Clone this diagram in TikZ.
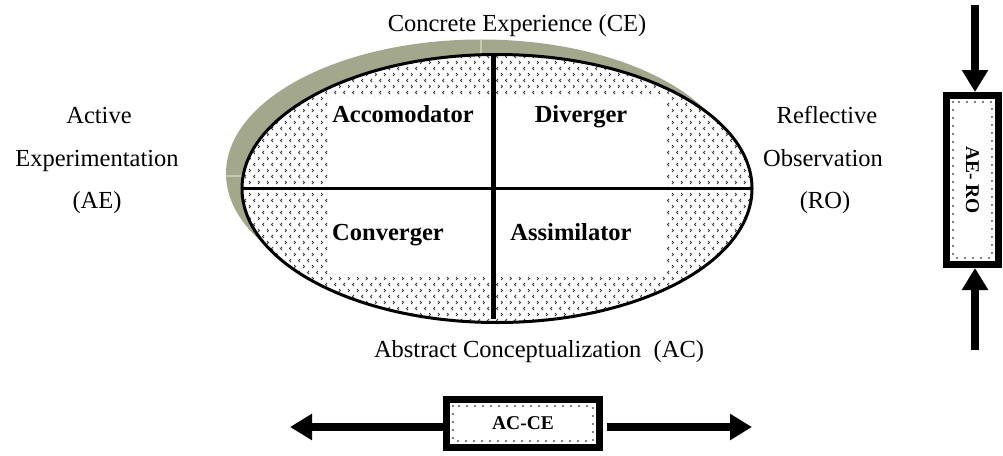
\documentclass[tikz,border=0pt]{standalone}
\usepackage{fontspec}
\setmainfont{Liberation Serif}
\usetikzlibrary{arrows.meta,patterns}
\pgfdeclarepatternformonly{chev}{\pgfqpoint{-1pt}{-1pt}}{\pgfqpoint{10pt}{13pt}}{\pgfqpoint{9pt}{12pt}}{%
  \pgfsetlinewidth{0.75pt}%
  \pgfpathmoveto{\pgfqpoint{3pt}{1pt}}\pgfpathlineto{\pgfqpoint{1.5pt}{2.5pt}}\pgfpathlineto{\pgfqpoint{3pt}{4pt}}%
  \pgfpathmoveto{\pgfqpoint{6pt}{7pt}}\pgfpathlineto{\pgfqpoint{7.5pt}{8.5pt}}\pgfpathlineto{\pgfqpoint{6pt}{10pt}}%
  \pgfusepath{stroke}}
\definecolor{shadowc}{RGB}{163,167,140}
\definecolor{shadowl}{RGB}{196,204,176}
\begin{document}
\begin{tikzpicture}[x=1pt,y=-1pt,
  plain/.style={font=\fontsize{24.5}{29}\selectfont, anchor=base, inner sep=0pt},
  quad/.style={font=\fontsize{24.5}{29}\selectfont\bfseries, anchor=base, inner sep=0pt},
  boxlbl/.style={font=\fontsize{19.5}{23}\selectfont\bfseries, inner sep=0pt},
  thickbox/.style={draw=black, line width=7pt, fill=white},
  dotline/.style={line width=1.8pt, line cap=round, dash pattern=on 0pt off 8pt},
  bigarrow/.style={line width=7.5pt, -{Triangle[length=22pt,width=25pt]}}
]
\useasboundingbox (0,0) rectangle (1003,455);
% shadow
\fill[shadowc] (481,173.5) ellipse [x radius=255, y radius=134];
\begin{scope}
  \clip (481,173.5) ellipse [x radius=255, y radius=134];
  \draw[shadowl, line width=1.5pt] (481,30) -- (481,330);
  \draw[shadowl, line width=1.5pt] (200,176) -- (780,176);
\end{scope}
% ellipse
\fill[white] (497,188.5) ellipse [x radius=255, y radius=134];
\fill[pattern=chev, pattern color=black!75] (497,188.5) ellipse [x radius=255, y radius=134];
\fill[white] (328,97) rectangle (666,274);
\draw[line width=3pt] (242,188.5) -- (752,188.5);
\draw[line width=5pt] (493.5,55) -- (493.5,319);
\draw[line width=3pt] (497,188.5) ellipse [x radius=255, y radius=134];
% quadrant labels
\node[quad] (acc) at (403,122) {Accomodator};
\node[quad] (div) at (581,122) {Diverger};
\node[quad] (con) at (388,240) {Converger};
\node[quad] (ass) at (571,240) {Assimilator};
% pole labels
\node[plain] (ce) at (517,31) {Concrete Experience (CE)};
\node[plain] (ac) at (539,357) {Abstract Conceptualization\ \ (AC)};
\node[plain] (ae1) at (99,123) {Active};
\node[plain] (ae2) at (97,166) {Experimentation};
\node[plain] (ae3) at (97,208) {(AE)};
\node[plain] (ro1) at (827,123) {Reflective};
\node[plain] (ro2) at (823,166) {Observation};
\node[plain] (ro3) at (825,208) {(RO)};
% right box
\draw[thickbox] (946.5,95.5) rectangle (998.5,264.5);
\draw[dotline] (953,102) rectangle (992,258);
\node[boxlbl, rotate=-90, fill=white, inner sep=3pt] (aero) at (972.5,180) {AE- RO};
\coordinate (aetop) at (975,5);
\coordinate (aebot) at (975,350);
\draw[bigarrow] (aetop) -- (975,92);
\draw[bigarrow] (aebot) -- (975,268);
% bottom box
\draw[thickbox] (446.5,399.5) rectangle (599.5,447.5);
\draw[dotline] (453,406) rectangle (593,441);
\node[boxlbl, fill=white, inner sep=3pt] (acce) at (523,423.5) {AC-CE};
\coordinate (accl) at (290,427);
\coordinate (accr) at (752,427);
\draw[bigarrow] (443,427) -- (accl);
\draw[bigarrow] (607,427) -- (accr);
\end{tikzpicture}
\end{document}
